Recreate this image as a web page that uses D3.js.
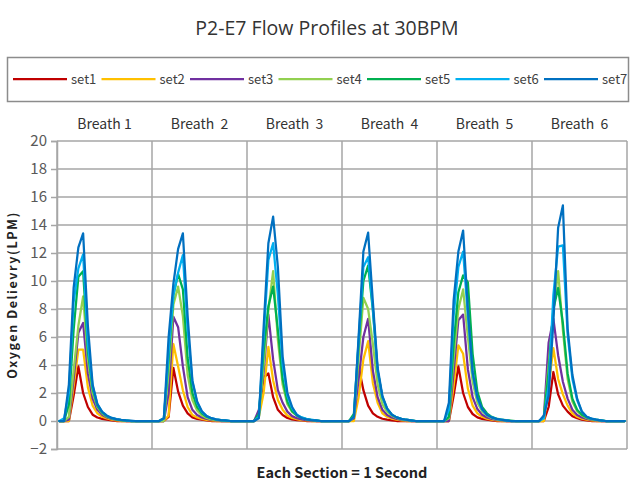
<!DOCTYPE html>
<html>
<head>
<meta charset="utf-8">
<script src="https://cdn.jsdelivr.net/npm/d3@7/dist/d3.min.js"></script>
<style>
  html, body { margin: 0; padding: 0; background: #fff; }
  svg { display: block; font-family: "Noto Sans CJK SC", "Noto Sans", sans-serif; }
</style>
</head>
<body>
<svg id="chart" width="636" height="483"></svg>
<script>
// Breath sections and axis ticks
const breaths = ["Breath 1", "Breath  2", "Breath  3", "Breath  4", "Breath  5", "Breath  6"];
const yTicks = [-2, 0, 2, 4, 6, 8, 10, 12, 14, 16, 18, 20];
const seriesNames = ["set1", "set2", "set3", "set4", "set5", "set6", "set7"];
const seriesColors = ["#c00000", "#ffc000", "#7030a0", "#92d050", "#00b050", "#00b0f0", "#0070c0"];

// Oxygen delivery (LPM), 20 samples per breath, one row per breath
const set1 = [
  [0,0,0,1.8,3.9,2.0,1.0,0.45,0.25,0.15,0.1,0.05,0,0,0,0,0,0,0,0],
  [0,0,0,0.3,3.8,2.1,1.1,0.55,0.26,0.15,0.1,0.05,0,0,0,0,0,0,0,0],
  [0,0,0.5,3.1,3.4,1.7,0.8,0.43,0.22,0.12,0.07,0.04,0,0,0,0,0,0,0,0],
  [0,0,0.3,3.9,2.2,1.1,0.55,0.3,0.16,0.1,0.05,0,0,0,0,0,0,0,0,0],
  [0,0,0,1.8,3.9,2.0,1.0,0.5,0.26,0.15,0.1,0.05,0,0,0,0,0,0,0,0],
  [0,0,0,1.0,3.5,1.9,1.1,0.67,0.35,0.2,0.1,0.05,0,0,0,0,0,0,0,0]
];
const set2 = [
  [0,0,0,2.5,5.1,5.1,2.4,1.1,0.55,0.3,0.18,0.1,0.05,0,0,0,0,0,0,0],
  [0,0,0,0.4,5.5,3.9,2.2,1.0,0.43,0.25,0.15,0.08,0.04,0,0,0,0,0,0,0],
  [0,0,0.3,2.0,5.3,2.9,1.5,0.8,0.4,0.22,0.13,0.07,0.04,0,0,0,0,0,0,0],
  [0,0,0,1.7,4.4,5.7,2.7,1.3,0.55,0.3,0.17,0.1,0.05,0,0,0,0,0,0,0],
  [0,0,0,2.5,5.4,4.8,2.3,1.1,0.55,0.3,0.17,0.1,0.05,0,0,0,0,0,0,0],
  [0,0,0,2.5,5.2,3.0,1.9,1.1,0.55,0.3,0.17,0.1,0.05,0,0,0,0,0,0,0]
];
const set3 = [
  [0,0,0.1,3.0,6.3,7.0,3.4,1.6,0.8,0.45,0.25,0.15,0.08,0.04,0,0,0,0,0,0],
  [0,0,0,2.0,7.45,6.7,3.9,1.7,0.8,0.43,0.25,0.15,0.08,0.04,0,0,0,0,0,0],
  [0,0,0.8,3.5,7.6,4.4,2.2,1.3,0.67,0.35,0.2,0.12,0.06,0.03,0,0,0,0,0,0],
  [0,0,0.2,3.0,6.0,7.3,3.6,1.7,0.8,0.43,0.25,0.15,0.08,0.04,0,0,0,0,0,0],
  [0,0,0,3.5,7.2,7.6,3.7,1.7,0.85,0.45,0.25,0.15,0.08,0.04,0,0,0,0,0,0],
  [0,0,0.3,5.6,7.3,4.7,2.8,1.6,0.8,0.43,0.25,0.15,0.08,0.04,0,0,0,0,0,0]
];
const set4 = [
  [0,0,0.3,3.6,6.8,8.9,4.4,2.0,1.0,0.55,0.3,0.18,0.1,0.05,0.03,0,0,0,0,0],
  [0,0,0,3.5,8.3,9.6,7.5,3.3,1.5,0.75,0.4,0.22,0.12,0.07,0.04,0,0,0,0,0],
  [0,0,0.3,4.0,7.9,10.7,5.8,2.6,1.2,0.65,0.38,0.22,0.12,0.07,0.04,0,0,0,0,0],
  [0,0,0.3,4.5,8.8,8.0,5.5,2.6,1.2,0.65,0.38,0.22,0.12,0.07,0.04,0,0,0,0,0],
  [0,0,0.2,4.5,8.0,9.4,6.0,2.8,1.3,0.7,0.4,0.22,0.12,0.07,0.04,0,0,0,0,0],
  [0,0,0.3,4.0,7.8,10.7,6.5,3.0,1.4,0.7,0.4,0.22,0.12,0.07,0.04,0,0,0,0,0]
];
const set5 = [
  [0,0,1.2,6.5,10.3,10.7,5.0,2.3,1.1,0.6,0.35,0.2,0.12,0.07,0.04,0,0,0,0,0],
  [0,0,0.2,4.5,9.0,10.5,9.4,4.5,2.0,1.0,0.55,0.3,0.18,0.1,0.06,0.03,0,0,0,0],
  [0,0,0.5,5.0,8.2,9.6,6.5,3.0,1.4,0.7,0.4,0.24,0.14,0.08,0.05,0,0,0,0,0],
  [0,0,0.5,5.5,10.0,11.1,7.9,3.6,1.7,0.85,0.45,0.26,0.15,0.09,0.05,0,0,0,0,0],
  [0,0,0.3,5.5,9.2,10.4,9.9,4.8,2.1,1.0,0.55,0.3,0.18,0.1,0.06,0.03,0,0,0,0],
  [0,0,0.3,3.5,8.0,9.5,7.0,3.4,1.6,0.8,0.45,0.26,0.15,0.09,0.05,0,0,0,0,0]
];
const set6 = [
  [0,0.2,2.0,8.5,10.9,11.9,5.5,2.5,1.2,0.65,0.38,0.22,0.13,0.08,0.05,0,0,0,0,0],
  [0,0,0.2,5.0,9.0,10.6,11.85,6.5,2.8,1.3,0.65,0.35,0.2,0.12,0.07,0.04,0,0,0,0],
  [0,0,0.3,6.0,11.5,12.7,9.0,4.0,1.8,0.9,0.45,0.26,0.15,0.09,0.05,0,0,0,0,0],
  [0,0,0.3,5.8,11.0,11.7,8.0,3.6,1.7,0.85,0.45,0.26,0.15,0.09,0.05,0,0,0,0,0],
  [0,0,0.8,7.5,11.0,12.1,7.5,3.4,1.6,0.8,0.45,0.26,0.15,0.09,0.05,0,0,0,0,0],
  [0,0,0.2,2.5,9.0,12.45,12.55,6.2,3.0,1.5,0.65,0.3,0.17,0.1,0.05,0,0,0,0,0]
];
const set7 = [
  [0,0,2.6,9.5,12.4,13.4,6.8,2.6,1.2,0.65,0.38,0.22,0.13,0.08,0.05,0.03,0,0,0,0],
  [0,0,0.2,6.0,9.8,12.3,13.4,7.5,2.9,1.4,0.7,0.35,0.2,0.12,0.07,0.04,0,0,0,0],
  [0,0,0.2,6.7,12.7,14.6,11.0,4.6,2.0,1.0,0.43,0.2,0.12,0.07,0.04,0,0,0,0,0],
  [0,0,0.3,6.0,12.1,13.45,8.5,3.8,1.8,0.9,0.45,0.26,0.15,0.09,0.05,0,0,0,0,0],
  [0,0,1.3,8.6,12.1,13.6,8.0,3.5,1.7,0.85,0.45,0.26,0.15,0.09,0.05,0,0,0,0,0],
  [0,0,0.4,1.8,7.1,13.8,15.4,6.6,3.3,1.6,0.67,0.3,0.17,0.1,0.05,0,0,0,0,0]
];

const allSets = [set1, set2, set3, set4, set5, set6, set7];
const series = allSets.map((rows, k) => ({
  name: seriesNames[k],
  color: seriesColors[k],
  values: rows.flat()
}));

const svg = d3.select("#chart");
const plot = { left: 57, right: 627, top: 141, bottom: 449 };
const gridColor = "#a6a6a6";
const textColor = "#404040";

const nSamples = series[0].values.length;
const x = d3.scalePoint()
  .domain(d3.range(nSamples))
  .range([plot.left, plot.right])
  .padding(0.5);
const xSection = d3.scaleBand()
  .domain(breaths)
  .range([plot.left, plot.right]);
const y = d3.scaleLinear()
  .domain([-2, 20])
  .range([plot.bottom, plot.top]);

// Title
svg.append("text")
  .attr("x", 327).attr("y", 35)
  .attr("text-anchor", "middle")
  .attr("font-size", 19.5)
  .attr("font-family", "\"Open Sans\", \"Noto Sans\", sans-serif")
  .attr("fill", "#333")
  .text("P2-E7 Flow Profiles at 30BPM");

// Legend
const legend = svg.append("g");
legend.append("rect")
  .attr("x", 7.5).attr("y", 57.5)
  .attr("width", 621).attr("height", 44)
  .attr("fill", "none")
  .attr("stroke", "#8c8c8c")
  .attr("stroke-width", 1.5);
const legendItem = legend.selectAll("g.item")
  .data(series)
  .join("g")
  .attr("class", "item")
  .attr("transform", (d, i) => `translate(${13 + i * 88.5},79)`);
legendItem.append("line")
  .attr("x1", 0).attr("x2", 54)
  .attr("stroke", d => d.color)
  .attr("stroke-width", 2.25);
legendItem.append("text")
  .attr("x", 58).attr("dy", "0.35em")
  .attr("font-size", 13)
  .attr("fill", textColor)
  .text(d => d.name);

// Horizontal gridlines
svg.append("g")
  .selectAll("line")
  .data(yTicks)
  .join("line")
  .attr("x1", plot.left).attr("x2", plot.right)
  .attr("y1", d => y(d)).attr("y2", d => y(d))
  .attr("stroke", gridColor)
  .attr("stroke-width", 1.5);

// Section dividers
const dividers = breaths.map(b => xSection(b)).concat([plot.right]);
svg.append("g")
  .selectAll("line")
  .data(dividers)
  .join("line")
  .attr("x1", d => d).attr("x2", d => d)
  .attr("y1", plot.top).attr("y2", plot.bottom)
  .attr("stroke", gridColor)
  .attr("stroke-width", 1.5);

// Y axis
const yAxis = svg.append("g")
  .attr("transform", `translate(${plot.left},0)`)
  .call(d3.axisLeft(y).tickValues(yTicks).tickSize(6).tickPadding(4));
yAxis.select(".domain").attr("stroke", gridColor).attr("stroke-width", 1.5);
yAxis.selectAll(".tick line").attr("stroke", gridColor).attr("stroke-width", 1.5);
yAxis.selectAll(".tick text")
  .attr("font-size", 15)
  .attr("fill", "#595959")
  .attr("font-family", "\"Noto Sans CJK SC\", \"Noto Sans\", sans-serif");

// Section labels
svg.append("g")
  .selectAll("text")
  .data(breaths)
  .join("text")
  .attr("x", d => xSection(d) + xSection.bandwidth() / 2)
  .attr("y", 129)
  .attr("text-anchor", "middle")
  .attr("font-size", 14)
  .attr("fill", "#333")
  .style("white-space", "pre")
  .text(d => d);

// Flow profile lines
const line = d3.line()
  .x((d, i) => x(i))
  .y(d => y(d));
svg.append("g")
  .selectAll("path")
  .data(series)
  .join("path")
  .attr("d", d => line(d.values))
  .attr("fill", "none")
  .attr("stroke", d => d.color)
  .attr("stroke-width", 2.25)
  .attr("stroke-linejoin", "round")
  .attr("stroke-linecap", "round");

// Axis titles
svg.append("text")
  .attr("transform", `translate(17,${(plot.top + plot.bottom) / 2}) rotate(-90)`)
  .attr("text-anchor", "middle")
  .attr("font-size", 12.5)
  .attr("font-weight", "bold")
  .attr("letter-spacing", "1.6px")
  .attr("fill", "#222")
  .text("Oxygen Delievry(LPM)");

svg.append("text")
  .attr("x", (plot.left + plot.right) / 2)
  .attr("y", 478)
  .attr("text-anchor", "middle")
  .attr("font-size", 14.5)
  .attr("font-weight", "bold")
  .attr("fill", "#222")
  .text("Each Section = 1 Second");
</script>
</body>
</html>
